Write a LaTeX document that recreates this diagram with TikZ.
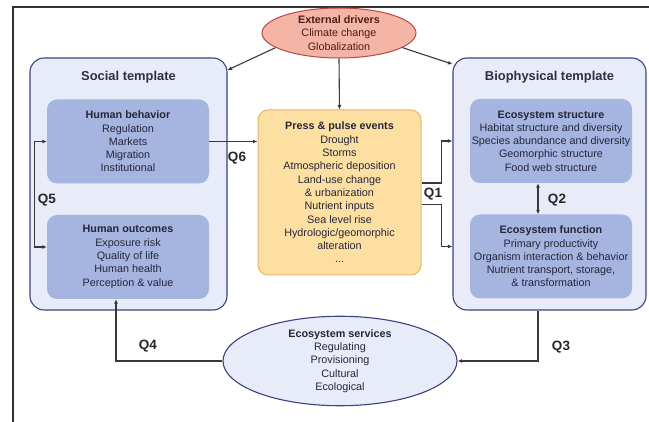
\documentclass[tikz,border=0pt]{standalone}
\usepackage{fontspec}
\setmainfont{Liberation Sans}
\usetikzlibrary{shapes.geometric,arrows.meta,calc}

\definecolor{tplfill}{HTML}{E8EBF8}
\definecolor{tpldraw}{HTML}{3E4380}
\definecolor{innerfill}{HTML}{A6B4E0}
\definecolor{pressfill}{HTML}{FDDFA2}
\definecolor{pressdraw}{HTML}{E6B466}
\definecolor{extfill}{HTML}{F4B4A6}
\definecolor{extdraw}{HTML}{B84A42}
\definecolor{exttext}{HTML}{4A1E1A}
\definecolor{linkcol}{HTML}{3A3A3A}
\definecolor{txt}{HTML}{26263A}

\tikzset{
  bodytext/.style={font=\fontsize{10.8}{13.3}\selectfont, text=txt, align=center},
  template/.style={draw=tpldraw, fill=tplfill, line width=1.1pt, rounded corners=14pt,
    minimum width=#1, minimum height=252pt, inner sep=0pt},
  innerbox/.style={fill=innerfill, rounded corners=10pt, minimum width=162pt,
    minimum height=84pt, inner sep=0pt, bodytext},
  ttl/.style={font=\fontsize{12.9}{15}\selectfont\bfseries, text=txt!90!gray},
  qlab/.style={font=\fontsize{13.5}{15}\selectfont\bfseries, text=black!85},
  link/.style={draw=linkcol, line width=1.1pt, -{Latex[length=4.5pt,width=4pt]}},
  dlink/.style={draw=linkcol, line width=1.1pt, {Latex[length=4.5pt,width=4pt]}-{Latex[length=4.5pt,width=4pt]}},
}

\begin{document}
\begin{tikzpicture}[x=1pt, y=-1pt]
  \useasboundingbox (0,0) rectangle (649,422);

  % frame edges
  \draw[line width=1.8pt, black!80] (13,423) -- (13,7) -- (650,7);

  % the two templates
  \node[template=197pt] (social) at (128.5,184) {};
  \node[template=193pt] (bio) at (549.5,184) {};
  \node[ttl] (socialttl) at (128.5,77) {Social template};
  \node[ttl] (biottl) at (549.5,77) {Biophysical template};

  % inner boxes
  \node[innerbox] (hb) at (128,141.5) {\textbf{Human behavior}\\Regulation\\Markets\\Migration\\Institutional};
  \node[innerbox] (ho) at (128,257) {\textbf{Human outcomes}\\Exposure risk\\Quality of life\\Human health\\Perception \& value};
  \node[innerbox] (es) at (551,141) {\textbf{Ecosystem structure}\\Habitat structure and diversity\\Species abundance and diversity\\Geomorphic structure\\Food web structure};
  \node[innerbox] (ef) at (551,256.5) {\textbf{Ecosystem function}\\Primary productivity\\Organism interaction \& behavior\\Nutrient transport, storage,\\\& transformation};

  % press and pulse events
  \node[draw=pressdraw, fill=pressfill, line width=1pt, rounded corners=10pt,
        minimum width=163pt, minimum height=165pt, inner sep=0pt, bodytext]
    (press) at (339.5,192.5)
    {\textbf{Press \& pulse events}\\Drought\\Storms\\Atmospheric deposition\\Land-use change\\\& urbanization\\Nutrient inputs\\Sea level rise\\Hydrologic/geomorphic\\alteration\\...};

  % external drivers
  \node[ellipse, draw=extdraw, fill=extfill, line width=1pt, minimum width=154pt,
        minimum height=50pt, inner sep=0pt, bodytext, text=exttext]
    (ext) at (339,33) {\textbf{External drivers}\\Climate change\\Globalization};

  % ecosystem services
  \node[ellipse, draw=tpldraw, fill=tplfill, line width=1.1pt, minimum width=234pt,
        minimum height=88pt, inner sep=0pt, bodytext]
    (serv) at (340,361) {\textbf{Ecosystem services}\\Regulating\\Provisioning\\Cultural\\Ecological};

  % drivers
  \draw[link] (ext.193) -- (social.49.7);
  \draw[link] (ext.-13) -- (bio.129.8);
  \draw[link] (ext.south) -- (press.north);

  % Q6
  \draw[link] (hb.east) -- (hb.east -| press.west);
  \node[qlab] (q6) at (237,158) {Q6};

  % Q1
  \path ([yshift=10pt]ef.west) coordinate (efw);
  \draw[link] ([yshift=9.5pt]press.east) -- ++(20,0) |- (bio.west |- es.west);
  \draw[link] ([yshift=-12pt]press.east) -- ++(20,0) |- (bio.west |- efw);
  \node[qlab] (q1) at (433,194) {Q1};

  % Q2
  \draw[dlink] ([xshift=-13pt]es.south) -- ([xshift=-13pt]ef.north);
  \node[qlab] (q2) at (557,200) {Q2};

  % Q3
  \draw[link] ([xshift=-11.5pt]bio.south) |- (serv.east);
  \node[qlab] (q3) at (561,347) {Q3};

  % Q4
  \draw[link] (serv.west) -| ([xshift=-12pt]ho.south);
  \node[qlab] (q4) at (148,346) {Q4};

  % Q5
  \path ([yshift=10pt]ho.west) coordinate (how);
  \draw[dlink] (hb.west) -- ++(-12,0) |- (how);
  \node[qlab] (q5) at (47,200) {Q5};
\end{tikzpicture}
\end{document}
